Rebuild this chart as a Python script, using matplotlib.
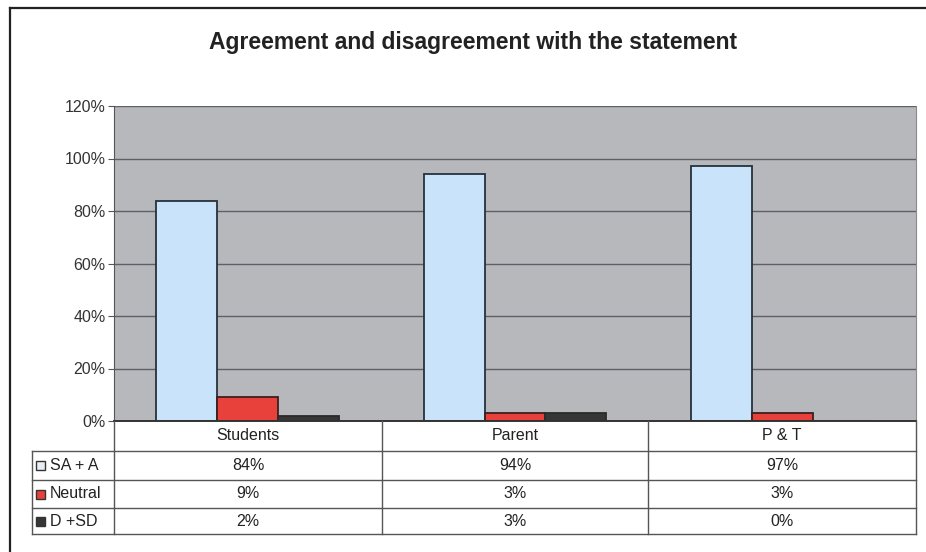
import matplotlib
matplotlib.use("Agg")
import matplotlib.pyplot as plt
import numpy as np
from matplotlib.patches import Rectangle
from matplotlib.lines import Line2D

plt.rcParams['font.family'] = ['Liberation Sans', 'DejaVu Sans']

categories = ["Students", "Parent", "P & T"]
series_names = ["SA + A", "Neutral", "D +SD"]
sa_a = [84, 94, 97]
neutral = [9, 3, 3]
d_sd = [2, 3, 0]
yticks = [0, 20, 40, 60, 80, 100, 120]

series = [sa_a, neutral, d_sd]
fills = ["#c9e3fa", "#e8413c", "#363636"]
edges = ["#27313b", "#3a2020", "#2a2a2a"]

W, H = 926, 552
fig = plt.figure(figsize=(W / 100, H / 100), dpi=100)
fig.patch.set_facecolor("white")

def fx(px):
    return px / W

def fy(py):
    return 1 - py / H

# outer chart frame
fig.add_artist(Line2D([fx(10), fx(10)], [fy(8), fy(552)], color="#222222", lw=1.6))
fig.add_artist(Line2D([fx(10), fx(926)], [fy(8), fy(8)], color="#222222", lw=1.6))

ax_l, ax_r, ax_t, ax_b = 114, 916, 106, 421
ax = fig.add_axes([fx(ax_l), fy(ax_b), fx(ax_r - ax_l), (ax_b - ax_t) / H])
ax.set_facecolor("#b6b8bc")

x = np.arange(len(categories))
bw = 0.228
for i, (vals, fc, ec) in enumerate(zip(series, fills, edges)):
    ax.bar(x + (i - 1) * bw, vals, width=bw, color=fc, edgecolor=ec,
           linewidth=1.3, zorder=3)

ax.set_xlim(-0.5, len(categories) - 0.5)
ax.set_ylim(0, 120)
ax.set_yticks(yticks)
ax.set_yticklabels([f"{v}%" for v in yticks], fontsize=11.5, color="#333333")
ax.set_xticks([])
ax.yaxis.grid(True, color="#5e6066", lw=1.0, zorder=1)
ax.tick_params(axis="y", length=4, color="#555555", pad=2)
for side in ["top", "bottom"]:
    ax.spines[side].set_visible(False)
ax.spines["left"].set_color("#555555")
ax.spines["right"].set_color("#8a8a8a")

fig.text(fx(473), fy(43), "Agreement and disagreement with the statement",
         ha="center", va="center", fontsize=16.5, fontweight="bold", color="#222222")

# data table under the plot
col_edges = [114, 382, 648, 916]
row_edges = [421, 451, 480, 508, 534]
leg_left = 32
tc = "#555555"
fs = 11.5

def hline(y, x0, x1, lw=1.0, c=tc):
    fig.add_artist(Line2D([fx(x0), fx(x1)], [fy(y), fy(y)], color=c, lw=lw))

def vline(xp, y0, y1, lw=1.0, c=tc):
    fig.add_artist(Line2D([fx(xp), fx(xp)], [fy(y0), fy(y1)], color=c, lw=lw))

hline(row_edges[0], col_edges[0], col_edges[-1], lw=1.4, c="#333333")
for y in row_edges[1:]:
    hline(y, leg_left, col_edges[-1], lw=1.0)
for xp in col_edges:
    vline(xp, row_edges[0], row_edges[-1])
vline(leg_left, row_edges[1], row_edges[-1])

for j, cat in enumerate(categories):
    cx = (col_edges[j] + col_edges[j + 1]) / 2
    cy = (row_edges[0] + row_edges[1]) / 2
    fig.text(fx(cx), fy(cy), cat, ha="center", va="center", fontsize=fs, color="#222222")

for i, (name, vals) in enumerate(zip(series_names, series)):
    cy = (row_edges[i + 1] + row_edges[i + 2]) / 2
    fig.add_artist(Rectangle((fx(leg_left + 4), fy(cy + 4.5)), fx(9), 9 / H,
                             facecolor=fills[i] if i else "#e8eef4",
                             edgecolor="#333333", lw=1.0))
    fig.text(fx(leg_left + 18), fy(cy), name, ha="left", va="center",
             fontsize=fs, color="#222222")
    for j, v in enumerate(vals):
        cx = (col_edges[j] + col_edges[j + 1]) / 2
        fig.text(fx(cx), fy(cy), f"{v}%", ha="center", va="center",
                 fontsize=fs, color="#222222")

fig.savefig("out.png", dpi=100, facecolor="white")
